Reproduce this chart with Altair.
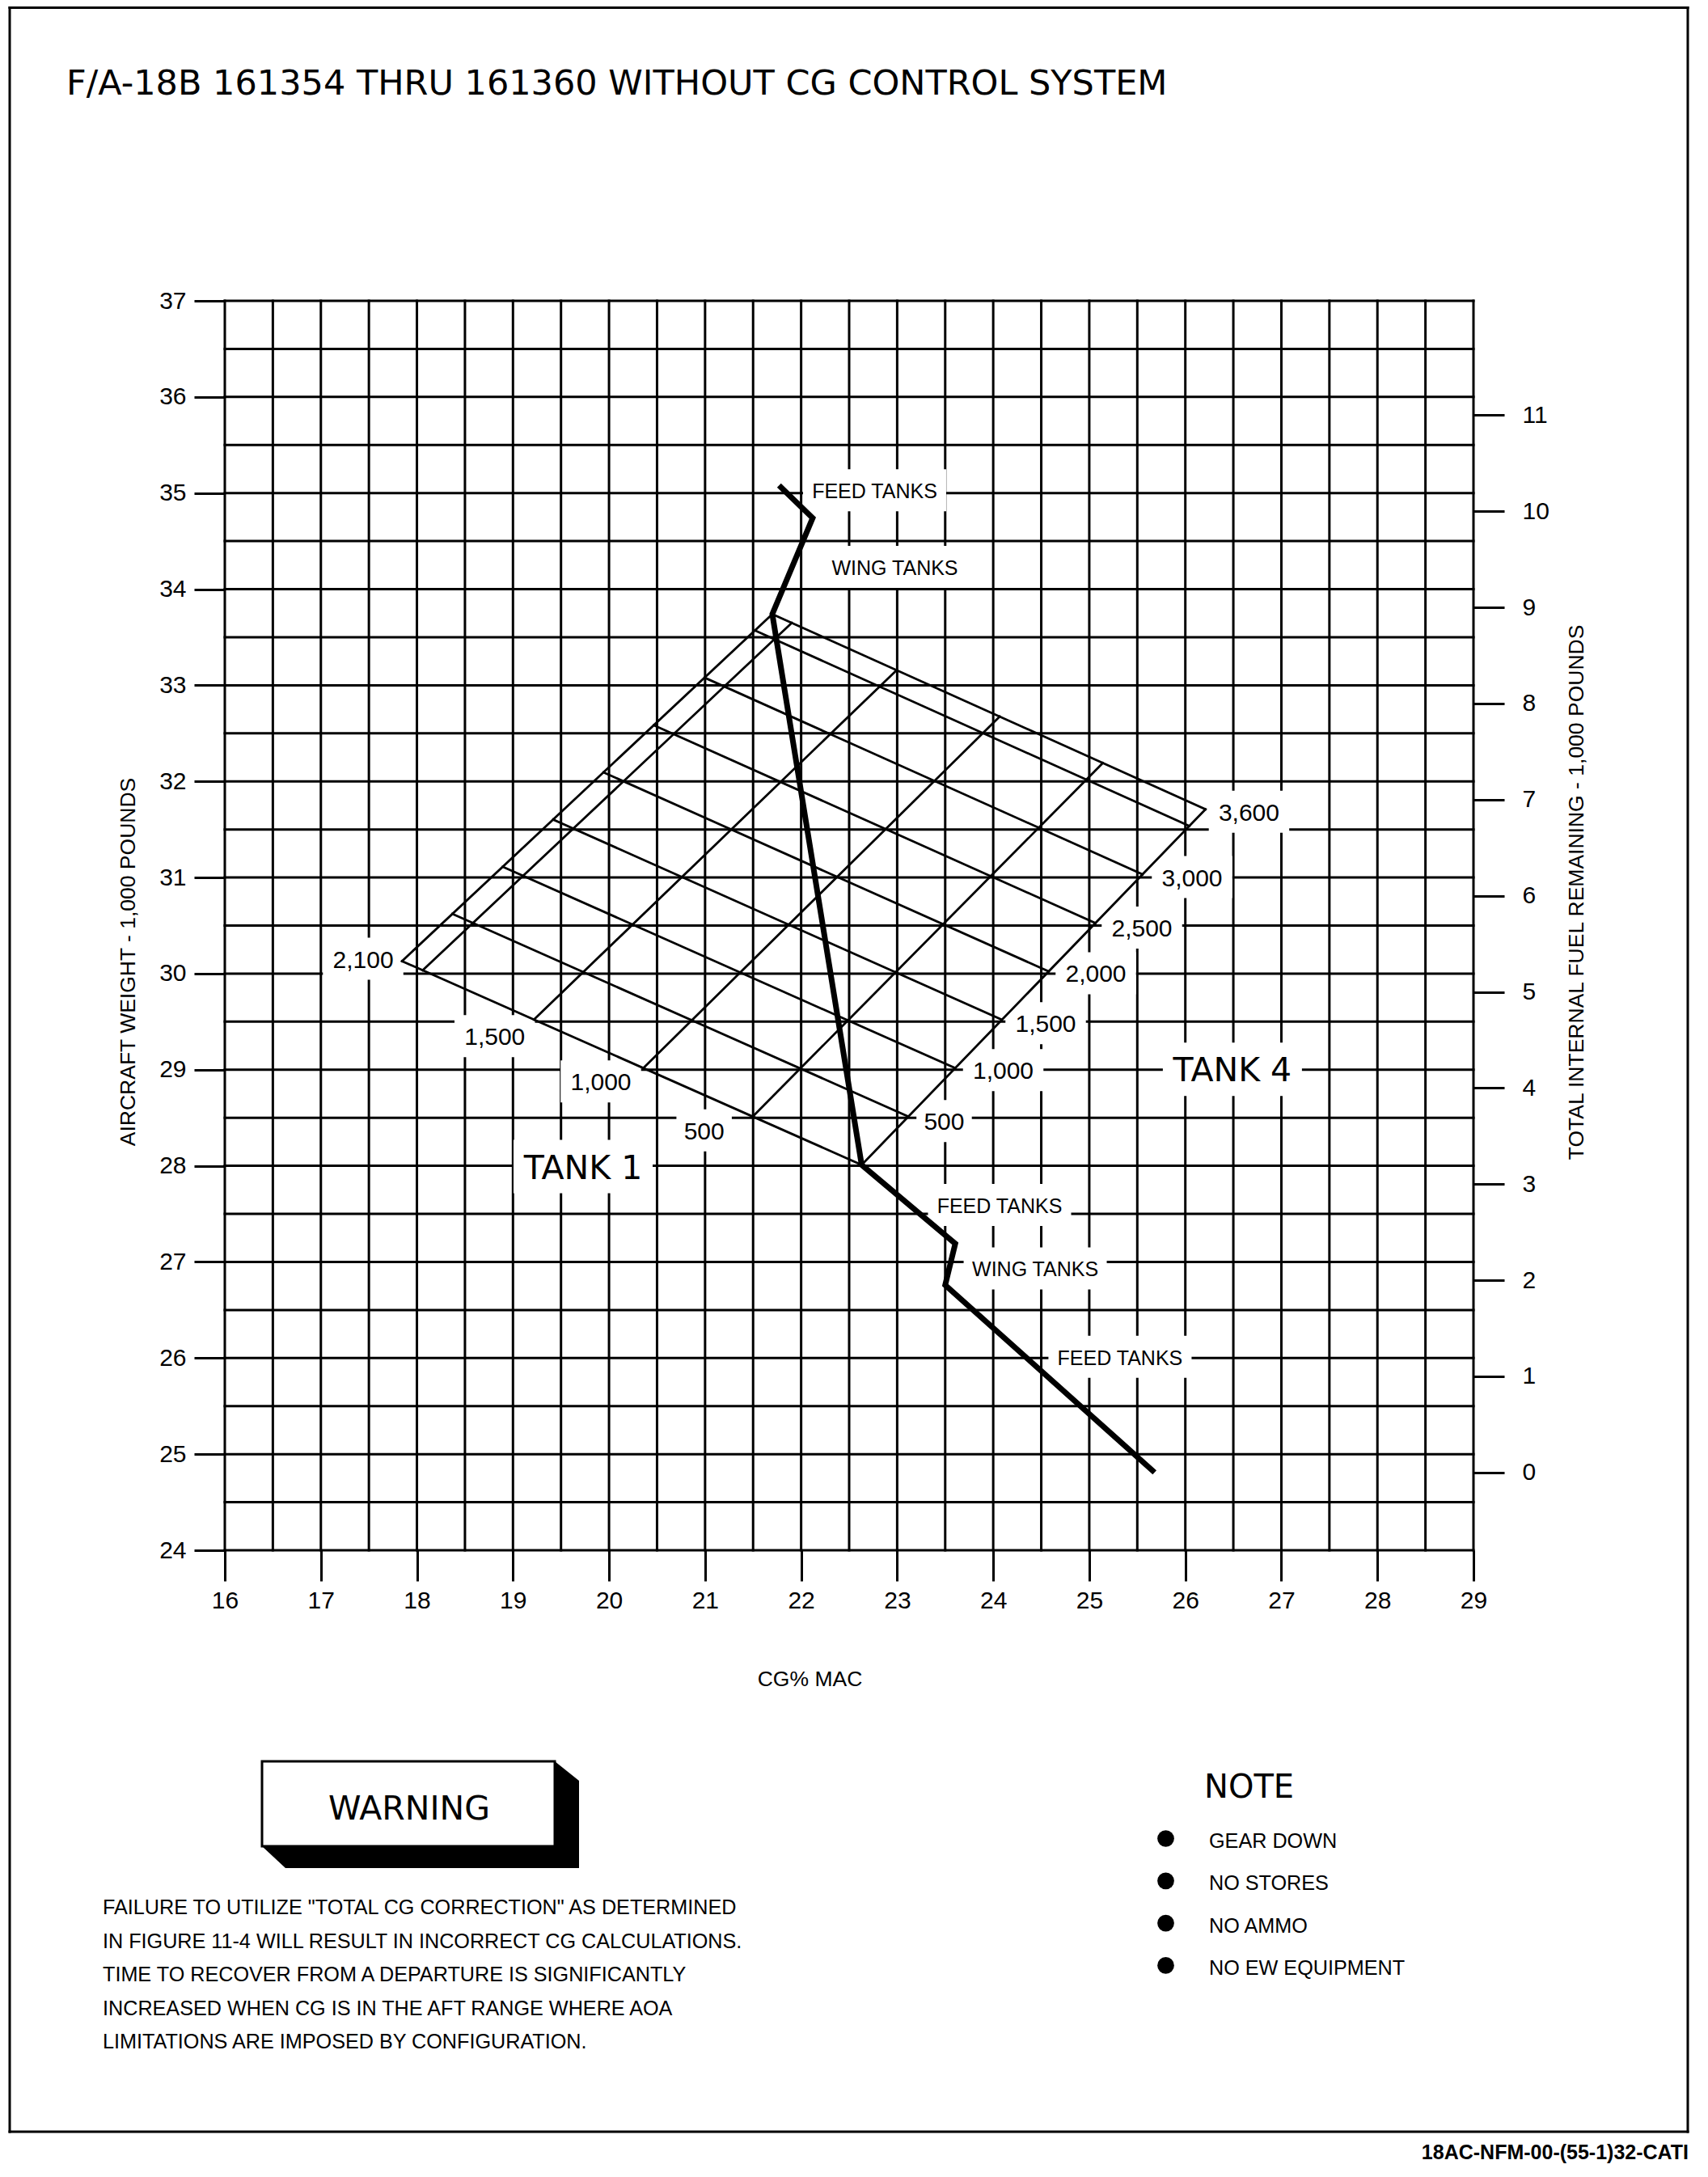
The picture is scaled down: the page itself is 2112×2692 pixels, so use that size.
import altair as alt
import numpy as np
import pandas as pd

# ---------------- values ----------------
X_TICKS = list(range(16, 30))          # CG % MAC
Y_TICKS = list(range(24, 38))          # aircraft weight, 1,000 lb
FUEL_TICKS = list(range(0, 12))        # total internal fuel, 1,000 lb
EMPTY_WT = 24.81                       # aircraft weight at zero fuel

TRACK_CG = [21.77, 22.12, 21.70, 22.63, 23.605, 23.50, 25.68]
TRACK_WT = [35.08, 34.74, 33.74, 28.01, 27.19, 26.76, 24.81]

# nomogram corners: O both empty, A tank 1 full, B tank 4 full, C both full
CORNER_CG = [22.63, 17.845, 26.21, 21.70]
CORNER_WT = [28.01, 30.13, 31.71, 33.74]

TANK1_FUEL = [0, 500, 1000, 1500, 2000, 2100]
TANK1_FRAC = [0.0, 0.237, 0.475, 0.713, 0.955, 1.0]
TANK4_FUEL = [0, 500, 1000, 1500, 2000, 2500, 3000, 3500, 3600]
TANK4_FRAC = [0.0, 0.136, 0.272, 0.408, 0.544, 0.680, 0.817, 0.953, 1.0]

TANK1_LABELS = ["2,100", "1,500", "1,000", "500"]
TANK1_LAB_CG = [17.44, 18.81, 19.915, 20.99]
TANK1_LAB_WT = [30.155, 29.35, 28.878, 28.37]

TANK4_LABELS = ["3,600", "3,000", "2,500", "2,000", "1,500", "1,000", "500"]
TANK4_LAB_CG = [26.663, 26.07, 25.548, 25.068, 24.546, 24.104, 23.489]
TANK4_LAB_WT = [31.685, 31.004, 30.479, 30.004, 29.483, 28.996, 28.466]

PHASE_LABELS = ["FEED TANKS", "WING TANKS", "FEED TANKS", "WING TANKS", "FEED TANKS"]
PHASE_CG = [22.765, 22.976, 24.066, 24.437, 25.32]
PHASE_WT = [35.03, 34.231, 27.592, 26.933, 26.013]

TANK_NAMES = ["TANK 1", "TANK 4"]
TANK_NAME_CG = [19.73, 26.49]
TANK_NAME_WT = [27.992, 29.004]

TITLE = "F/A-18B 161354 THRU 161360 WITHOUT CG CONTROL SYSTEM"
X_TITLE = "CG% MAC"
Y_TITLE = "AIRCRAFT WEIGHT - 1,000 POUNDS"
FUEL_TITLE = "TOTAL INTERNAL FUEL REMAINING - 1,000 POUNDS"
WARNING_HEAD = "WARNING"
WARNING_LINES = [
    'FAILURE TO UTILIZE "TOTAL CG CORRECTION" AS DETERMINED',
    "IN FIGURE 11-4 WILL RESULT IN INCORRECT CG CALCULATIONS.",
    "TIME TO RECOVER FROM A DEPARTURE IS SIGNIFICANTLY",
    "INCREASED WHEN CG IS IN THE AFT RANGE WHERE AOA",
    "LIMITATIONS ARE IMPOSED BY CONFIGURATION.",
]
NOTE_HEAD = "NOTE"
NOTE_ITEMS = ["GEAR DOWN", "NO STORES", "NO AMMO", "NO EW EQUIPMENT"]
FOOTER = "18AC-NFM-00-(55-1)32-CATI"

# ---------------- layout ----------------
W, H = 1544, 1545
X0, Y0 = 278, 372                 # page position of the plot origin
SVG_W, SVG_H = 2096, 2676
XD, YD = [16, 29], [24, 37]
UX = W / (XD[1] - XD[0])
UY = H / (YD[1] - YD[0])


def px2x(px):
    return XD[0] + (px - X0) / UX


def px2y(py):
    return YD[1] - (py - Y0) / UY


def rx(px):
    return px - X0


def ry(py):
    return py - Y0


NARROW = "'Liberation Sans', Arial, sans-serif"
WIDE = "'DejaVu Sans', Verdana, sans-serif"
BOLD = "'Liberation Sans', Arial, sans-serif"
LW = 3

xs = alt.Scale(domain=XD, nice=False, zero=False)
ys = alt.Scale(domain=YD, nice=False, zero=False)

# ---------------- axes (shared by every layer that uses the scales) ----------------
x_axis = alt.Axis(values=X_TICKS, title=X_TITLE, grid=False, domain=False,
                  tickSize=38, tickWidth=LW, tickColor="black",
                  labelFont=NARROW, labelFontSize=30, labelColor="black",
                  labelPadding=24, labelBaseline="middle", labelFlush=False,
                  labelOverlap=False, titleFont=NARROW, titleFontSize=26.5,
                  titleFontWeight="normal", titleColor="black",
                  titleX=rx(1001), titleY=2076 - (Y0 + H), titleAlign="center",
                  titleBaseline="middle", titleAngle=0)
y_axis = alt.Axis(values=Y_TICKS, title=Y_TITLE, grid=False, domain=False,
                  tickSize=38, tickWidth=LW, tickColor="black",
                  labelFont=NARROW, labelFontSize=30, labelColor="black",
                  labelPadding=10, labelFlush=False, labelOverlap=False,
                  titleFont=NARROW, titleFontSize=26.5, titleFontWeight="normal",
                  titleColor="black", titleAngle=270, titleX=rx(158),
                  titleY=ry(1189), titleAlign="center", titleBaseline="middle")


def X(field):
    return alt.X(field, scale=xs, axis=x_axis)


def Y(field):
    return alt.Y(field, scale=ys, axis=y_axis)


vgrid = pd.DataFrame({"x": np.arange(XD[0], XD[1] + 0.001, 0.5)})
hgrid = pd.DataFrame({"y": np.arange(YD[0], YD[1] + 0.001, 0.5)})

vlines = alt.Chart(vgrid).mark_rule(color="black", strokeWidth=LW, strokeCap="square").encode(
    x=X("x:Q"), y=alt.value(0), y2=alt.value(H))
hlines = alt.Chart(hgrid).mark_rule(color="black", strokeWidth=LW, strokeCap="square").encode(
    y=Y("y:Q"), x=alt.value(0), x2=alt.value(W))

# ---------------- labels (with white knock-out boxes) ----------------
rows = []
for t, x, y in zip(TANK1_LABELS, TANK1_LAB_CG, TANK1_LAB_WT):
    rows.append(dict(text=t, x=x, y=y, kind="num"))
for t, x, y in zip(TANK4_LABELS, TANK4_LAB_CG, TANK4_LAB_WT):
    rows.append(dict(text=t, x=x, y=y, kind="num"))
for t, x, y in zip(PHASE_LABELS, PHASE_CG, PHASE_WT):
    rows.append(dict(text=t, x=x, y=y, kind="word"))
for t, x, y in zip(TANK_NAMES, TANK_NAME_CG, TANK_NAME_WT):
    rows.append(dict(text=t, x=x, y=y, kind="tank"))
labels = pd.DataFrame(rows)
char_px = {"num": 15.5, "word": 15.5, "tank": 25.0}
half_h = {"num": 26, "word": 26, "tank": 33}
labels["hw"] = labels.apply(lambda r: len(r["text"]) * char_px[r["kind"]] / 2 + 11, axis=1)
labels["hh"] = labels["kind"].map(half_h)
labels["x_lo"] = labels["x"] - labels["hw"] / UX
labels["x_hi"] = labels["x"] + labels["hw"] / UX
labels["y_lo"] = labels["y"] - labels["hh"] / UY
labels["y_hi"] = labels["y"] + labels["hh"] / UY

boxes = alt.Chart(labels).mark_rect(fill="white", stroke=None).encode(
    x=X("x_lo:Q"), x2="x_hi:Q", y=Y("y_lo:Q"), y2="y_hi:Q")

# ---------------- nomogram (tank 1 / tank 4 lines) ----------------
O, A, B, C = [np.array([cx, cy]) for cx, cy in zip(CORNER_CG, CORNER_WT)]


def P(u, v):
    return (1 - u) * (1 - v) * O + u * (1 - v) * A + (1 - u) * v * B + u * v * C


seg = []
for fuel, u in zip(TANK1_FUEL, TANK1_FRAC):
    p, q = P(u, 0), P(u, 1)
    seg.append(dict(tank="1", fuel=fuel, x=p[0], y=p[1], x2=q[0], y2=q[1]))
for fuel, v in zip(TANK4_FUEL, TANK4_FRAC):
    p, q = P(0, v), P(1, v)
    seg.append(dict(tank="4", fuel=fuel, x=p[0], y=p[1], x2=q[0], y2=q[1]))
seg = pd.DataFrame(seg)
nomo = alt.Chart(seg).mark_rule(color="black", strokeWidth=2.8, strokeCap="square").encode(
    x=X("x:Q"), y=Y("y:Q"), x2="x2:Q", y2="y2:Q")

# ---------------- CG track ----------------
track = pd.DataFrame({"cg": TRACK_CG, "wt": TRACK_WT, "i": range(len(TRACK_CG))})
track_line = alt.Chart(track).mark_line(color="black", strokeWidth=7, strokeJoin="miter",
                                        strokeCap="butt").encode(
    x=X("cg:Q"), y=Y("wt:Q"), order="i:O")


# ---------------- label texts ----------------
def label_layer(kind, font, size, dy):
    return alt.Chart(labels[labels["kind"] == kind]).mark_text(
        font=font, fontSize=size, color="black", align="center",
        baseline="middle", dy=dy).encode(x=X("x:Q"), y=Y("y:Q"), text="text:N")


num_text = label_layer("num", NARROW, 30, 2)
word_text = label_layer("word", NARROW, 25, 2)
tank_text = label_layer("tank", WIDE, 41, 3)

# ---------------- page decorations ----------------
one = pd.DataFrame({"k": [0]})


def hrule(x1, x2, y, w=LW):
    return alt.Chart(one).mark_rule(color="black", strokeWidth=w, strokeCap="square").encode(
        x=alt.value(rx(x1)), x2=alt.value(rx(x2)), y=alt.value(ry(y)))


def vrule(x, y1, y2, w=LW):
    return alt.Chart(one).mark_rule(color="black", strokeWidth=w, strokeCap="square").encode(
        x=alt.value(rx(x)), y=alt.value(ry(y1)), y2=alt.value(ry(y2)))


def page_text(txt, x, y, font, size, align="left", weight="normal", lh=None):
    props = dict(font=font, fontSize=size, color="black", align=align,
                 baseline="alphabetic", fontWeight=weight)
    if lh is not None:
        props.update(lineBreak="\n", lineHeight=lh)
    return alt.Chart(one).mark_text(**props).encode(
        x=alt.value(rx(x)), y=alt.value(ry(y)), text=alt.value(txt))


frame = [hrule(12, 2087, 9.5), hrule(12, 2087, 2636),
         vrule(12, 9.5, 2636), vrule(2087, 9.5, 2636)]

title = page_text(TITLE, 82, 117, WIDE, 43)

# warning box with 3-D shadow
shadow = pd.DataFrame({
    "x": [px2x(v) for v in [324, 353, 686, 716]],
    "y": [px2y(v) for v in [2178, 2178, 2178, 2202]],
    "y2": [px2y(v) for v in [2283, 2310, 2310, 2310]],
})
shadow_area = alt.Chart(shadow).mark_area(color="black", interpolate="linear").encode(
    x=X("x:Q"), y=Y("y:Q"), y2="y2:Q")
warn_box = alt.Chart(one).mark_rect(fill="white", stroke="black", strokeWidth=LW).encode(
    x=alt.value(rx(324)), x2=alt.value(rx(686)), y=alt.value(ry(2178)), y2=alt.value(ry(2283)))
warn_head = page_text(WARNING_HEAD, 506, 2250, WIDE, 41, align="center")
warn_text = page_text("\n".join(WARNING_LINES), 127, 2367, NARROW, 25.2, lh=41.5)

note_head = page_text(NOTE_HEAD, 1489, 2223, WIDE, 40)
note_text = page_text("\n".join(NOTE_ITEMS), 1495, 2285, NARROW, 25.2, lh=52.3)
bullets = pd.DataFrame({"i": range(len(NOTE_ITEMS))})
bullets["x"] = px2x(1441.5)
bullets["y"] = [px2y(2273.5 + 52.3 * i) for i in bullets["i"]]
bullet_marks = alt.Chart(bullets).mark_circle(color="black", opacity=1, size=430).encode(
    x=X("x:Q"), y=Y("y:Q"))

footer = page_text(FOOTER, 2088, 2670, BOLD, 25, align="right", weight="bold")

main = alt.layer(vlines, hlines, boxes, nomo, track_line, num_text, word_text, tank_text,
                 *frame, title, shadow_area, warn_box, warn_head, warn_text,
                 note_head, note_text, bullet_marks, footer)

# ---------------- right-hand fuel axis ----------------
fuel_axis = alt.Axis(orient="right", values=FUEL_TICKS, title=FUEL_TITLE, grid=False,
                     domain=False, tickSize=38, tickWidth=LW, tickColor="black",
                     labelFont=NARROW, labelFontSize=30, labelColor="black",
                     labelPadding=22, labelFlush=False, labelOverlap=False,
                     titleFont=NARROW, titleFontSize=26.5, titleFontWeight="normal",
                     titleColor="black", titleAngle=270, titleX=1949 - (X0 + W),
                     titleY=ry(1103), titleAlign="center", titleBaseline="middle")
fuel_layer = alt.Chart(pd.DataFrame({"fuel": FUEL_TICKS})).mark_point(opacity=0).encode(
    y=alt.Y("fuel:Q", axis=fuel_axis,
            scale=alt.Scale(domain=[YD[0] - EMPTY_WT, YD[1] - EMPTY_WT], nice=False, zero=False)))

chart = alt.layer(main, fuel_layer).resolve_scale(y="independent").properties(
    width=W, height=H, autosize="none",
    padding={"left": X0 - 8, "top": Y0 - 8,
             "right": SVG_W - (X0 - 8) - W, "bottom": SVG_H - (Y0 - 8) - H},
    background="white",
).configure_view(stroke=None)

chart.save("out.html", embed_options={"renderer": "svg", "actions": False})
